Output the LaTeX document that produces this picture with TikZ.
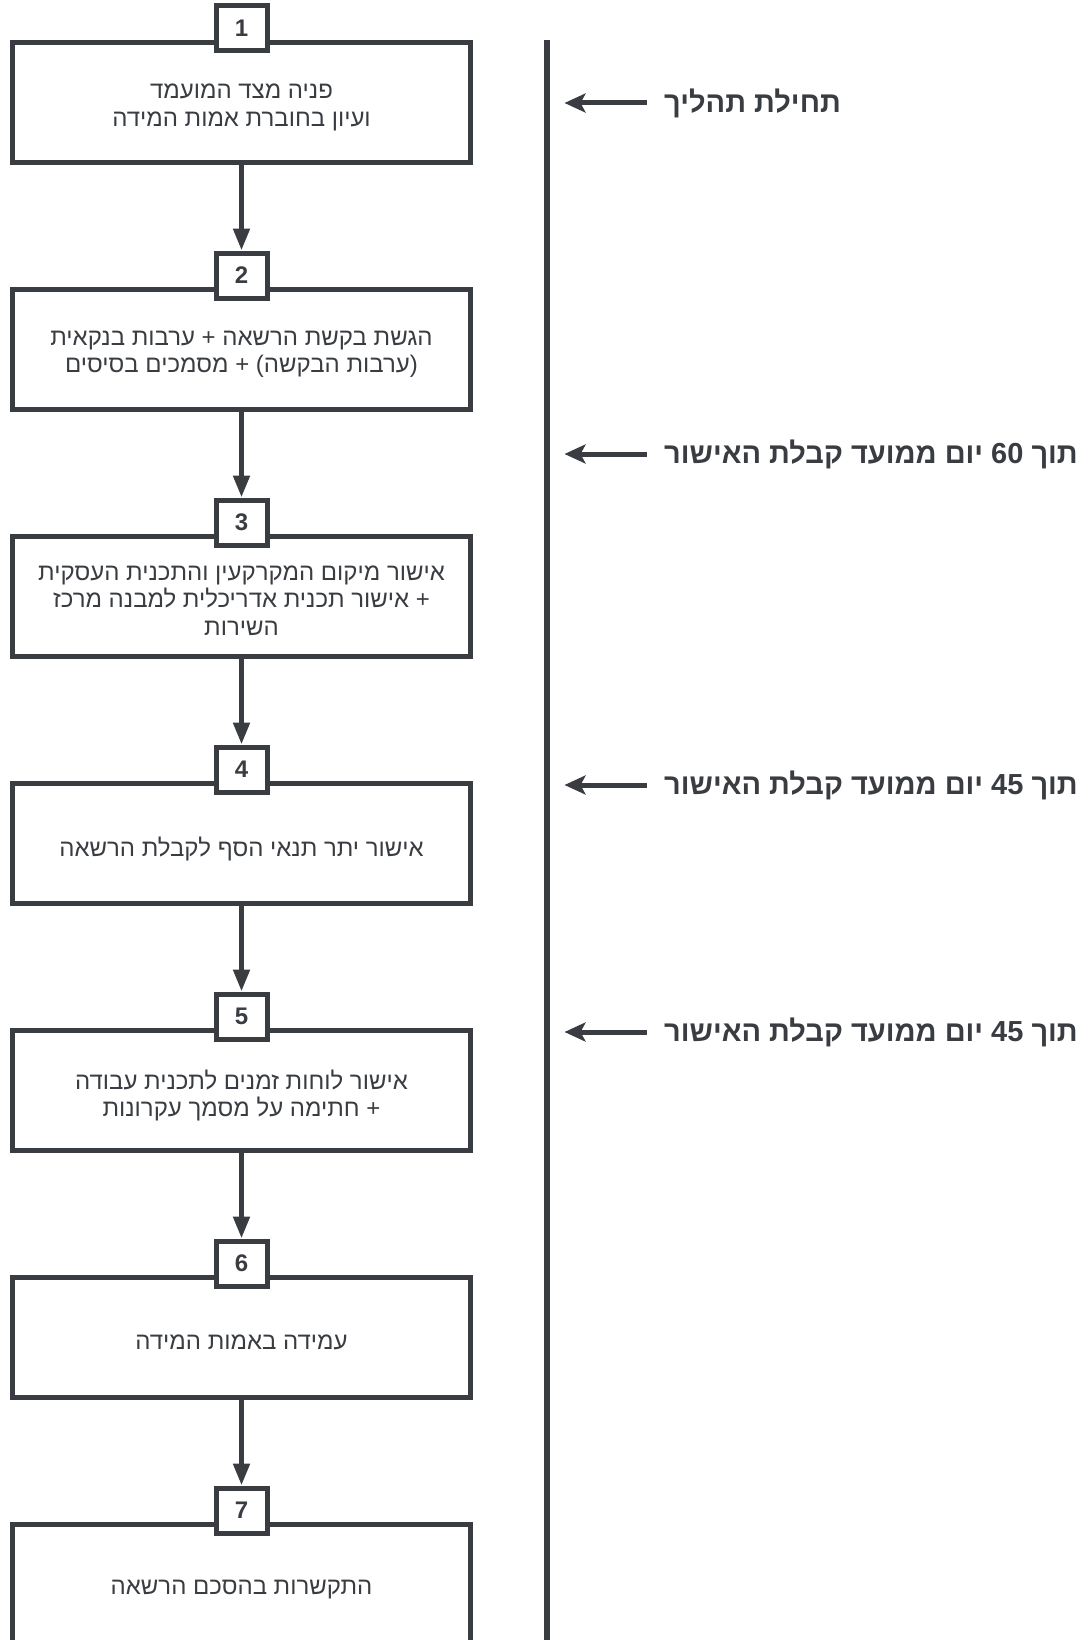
\documentclass[tikz,border=0pt]{standalone}
\usepackage{fontspec}
\usetikzlibrary{arrows.meta}
\TeXXeTstate=1
\newfontfamily\hebfont[Script=Hebrew]{Liberation Sans}
\definecolor{ink}{RGB}{57,61,66}
\tikzset{
  stepbox/.style={draw=ink, line width=5pt, minimum width=458pt, minimum height=120pt, inner sep=0pt},
  steptext/.style={inner sep=0pt, align=center, text=ink, font={\hebfont\fontsize{24}{27.5}\selectfont}},
  numbox/.style={draw=ink, fill=white, line width=5pt, minimum width=51pt, minimum height=45pt,
    inner sep=0pt, text=ink, font={\hebfont\bfseries\fontsize{24}{24}\selectfont}},
  flowarrow/.style={draw=ink, line width=5pt, -{Triangle[length=22pt,width=16pt]}},
  sidearrow/.style={draw=ink, line width=5pt, -{Stealth[length=21pt,width=19pt,inset=5pt]}},
  sidelabel/.style={anchor=west, inner sep=0pt, text=ink, font={\hebfont\bfseries\fontsize{29}{32}\selectfont}},
  timeline/.style={draw=ink, line width=6pt}
}
\begin{document}
\begin{tikzpicture}[x=1pt, y=-1pt]
\useasboundingbox (0,0) rectangle (1090,1640);
\clip (0,0) rectangle (1090,1640);
% boxes
\node[stepbox] (b1) at (241.5,102.5) {};
\node[stepbox] (b2) at (241.5,349.5) {};
\node[stepbox] (b3) at (241.5,596.5) {};
\node[stepbox] (b4) at (241.5,843.5) {};
\node[stepbox] (b5) at (241.5,1090.5) {};
\node[stepbox] (b6) at (241.5,1337.5) {};
\node[stepbox] (b7) at (241.5,1584.5) {};
% box texts
\node[steptext] (x1) at ([yshift=-5pt]b1.center) {\beginR פניה מצד המועמד\endR\\\beginR ועיון בחוברת אמות המידה\endR};
\node[steptext] (x2) at ([yshift=-5pt]b2.center) {\beginR הגשת בקשת הרשאה + ערבות בנקאית\endR\\\beginR (ערבות הבקשה) + מסמכים בסיסים\endR};
\node[steptext] (x3) at ([yshift=-4pt]b3.center) {\beginR אישור מיקום המקרקעין והתכנית העסקית\endR\\\beginR + אישור תכנית אדריכלית למבנה מרכז\endR\\\beginR השירות\endR};
\node[steptext] (x4) at ([yshift=-5pt]b4.center) {\beginR אישור יתר תנאי הסף לקבלת הרשאה\endR};
\node[steptext] (x5) at ([yshift=-5pt]b5.center) {\beginR אישור לוחות זמנים לתכנית עבודה\endR\\\beginR + חתימה על מסמך עקרונות\endR};
\node[steptext] (x6) at ([yshift=-5pt]b6.center) {\beginR עמידה באמות המידה\endR};
\node[steptext] (x7) at ([yshift=-5pt]b7.center) {\beginR התקשרות בהסכם הרשאה\endR};
% number boxes
\node[numbox] (n1) at (241.5,28.5) {1};
\node[numbox] (n2) at (241.5,275.5) {2};
\node[numbox] (n3) at (241.5,522.5) {3};
\node[numbox] (n4) at (241.5,769.5) {4};
\node[numbox] (n5) at (241.5,1016.5) {5};
\node[numbox] (n6) at (241.5,1263.5) {6};
\node[numbox] (n7) at (241.5,1510.5) {7};
% flow arrows
\draw[flowarrow] (b1.south) -- (n2.north);
\draw[flowarrow] (b2.south) -- (n3.north);
\draw[flowarrow] (b3.south) -- (n4.north);
\draw[flowarrow] (b4.south) -- (n5.north);
\draw[flowarrow] (b5.south) -- (n6.north);
\draw[flowarrow] (b6.south) -- (n7.north);
% timeline
\coordinate (ltop) at (547,40);
\coordinate (lbot) at (547,1640);
\draw[timeline] (ltop) -- (lbot);
% side labels
\node[sidelabel] (s1) at (664,103) {\beginR תחילת תהליך\endR};
\node[sidelabel] (s2) at (664,454) {\beginR תוך \beginL 60\endL{} יום ממועד קבלת האישור\endR};
\node[sidelabel] (s3) at (664,785) {\beginR תוך \beginL 45\endL{} יום ממועד קבלת האישור\endR};
\node[sidelabel] (s4) at (664,1032) {\beginR תוך \beginL 45\endL{} יום ממועד קבלת האישור\endR};
\coordinate (t1) at (564.5,103);
\coordinate (t2) at (564.5,454);
\coordinate (t3) at (564.5,785);
\coordinate (t4) at (564.5,1032);
\draw[sidearrow] ([xshift=-17pt]s1.west) -- (t1);
\draw[sidearrow] ([xshift=-17pt]s2.west) -- (t2);
\draw[sidearrow] ([xshift=-17pt]s3.west) -- (t3);
\draw[sidearrow] ([xshift=-17pt]s4.west) -- (t4);
\end{tikzpicture}
\end{document}
